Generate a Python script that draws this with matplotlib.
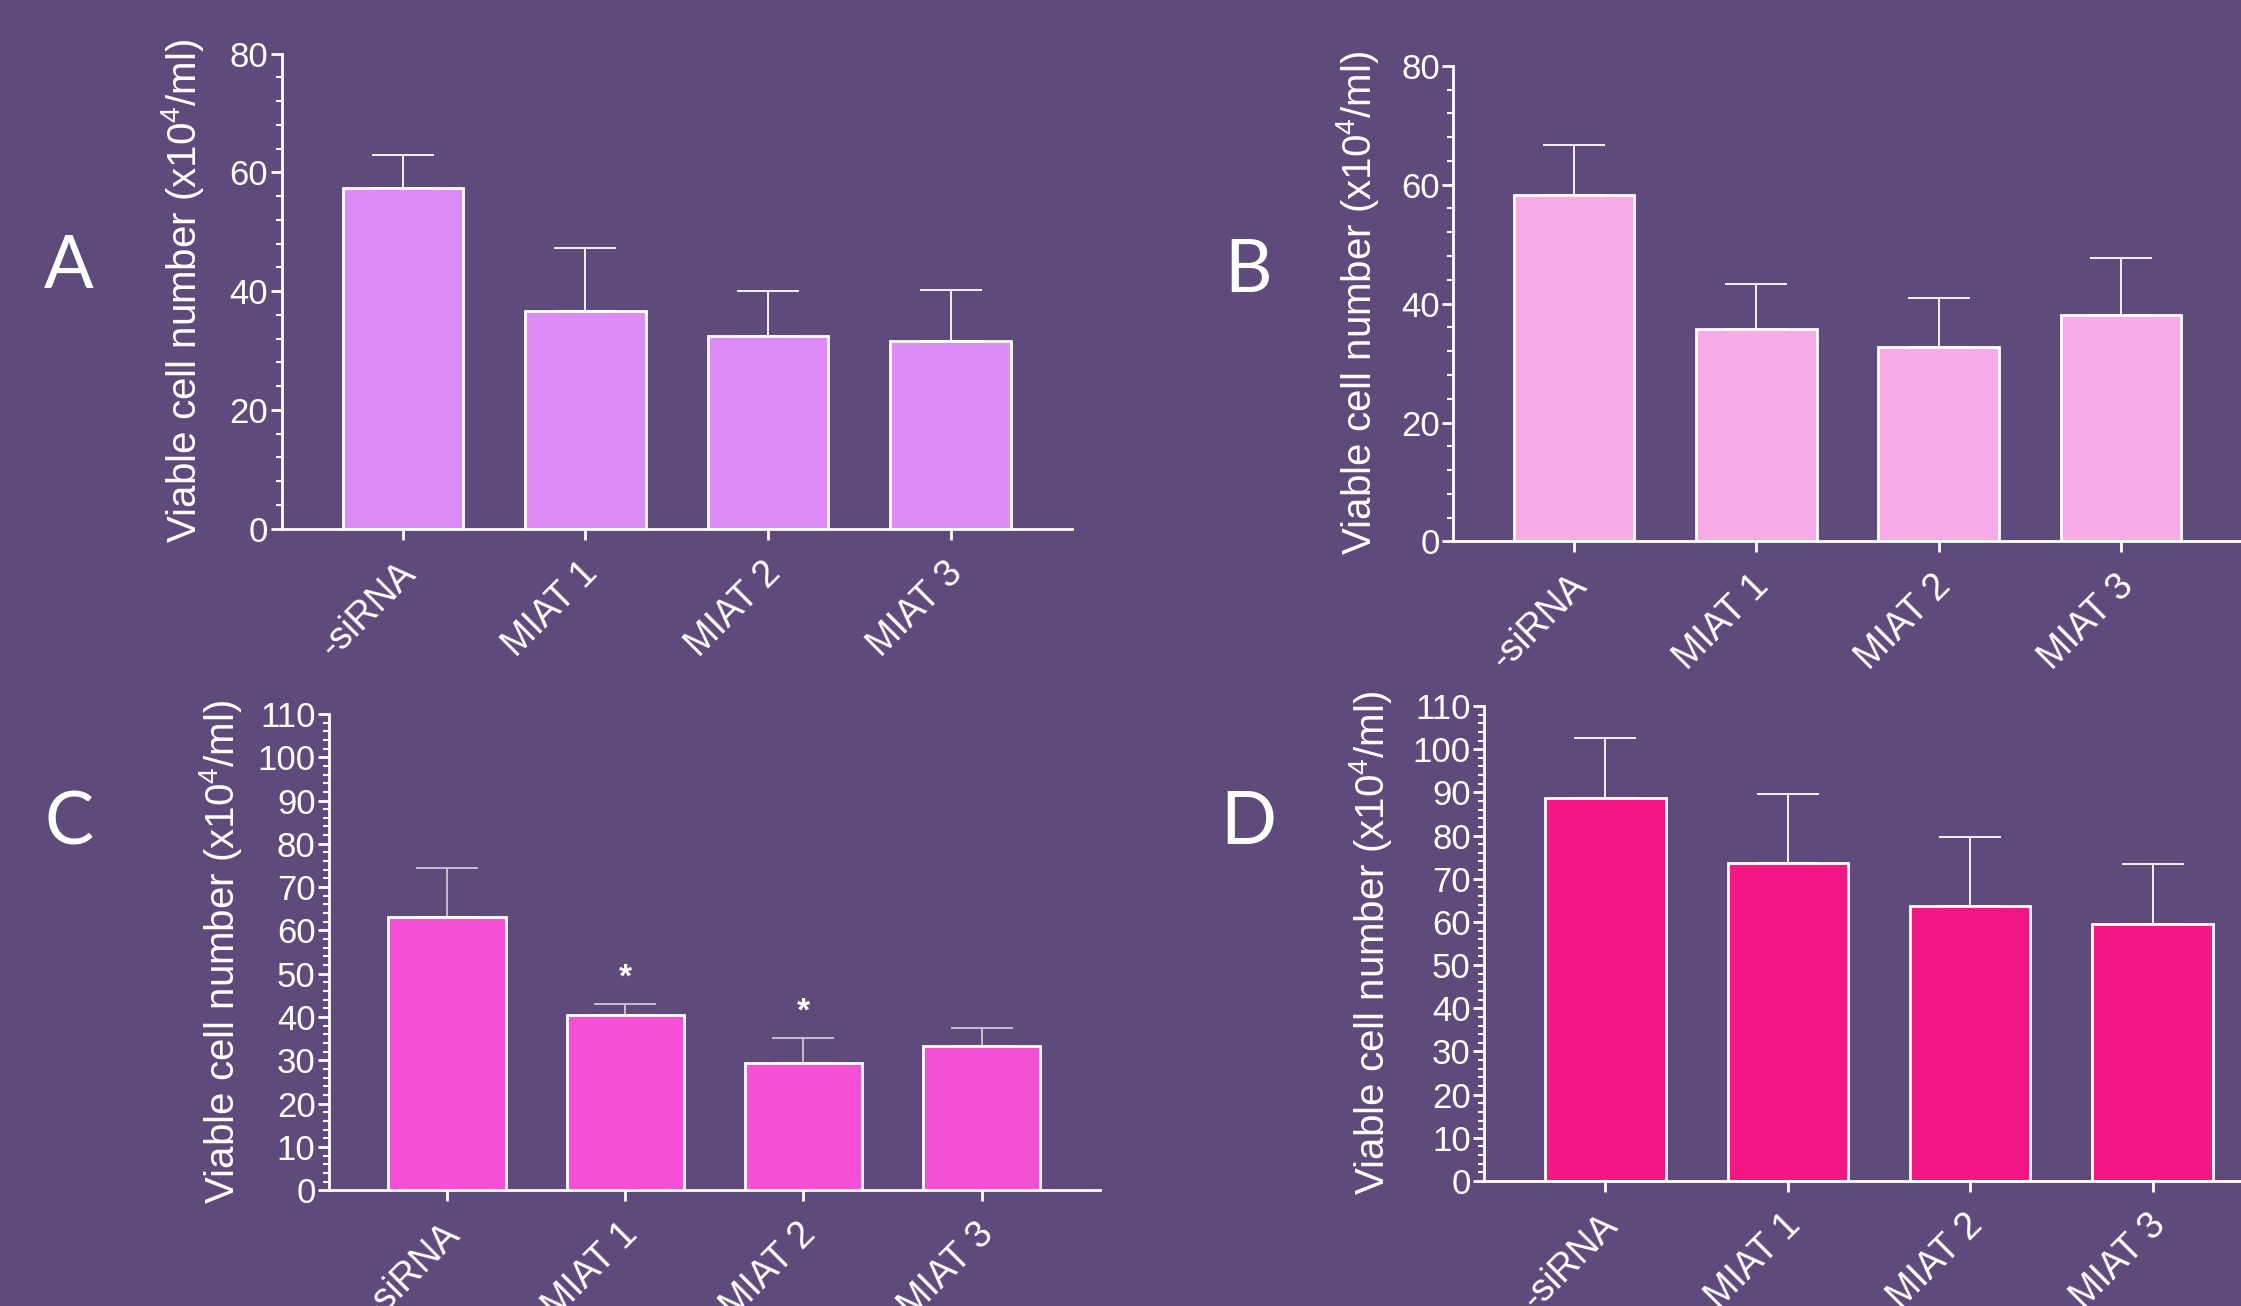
import numpy as np
import matplotlib.pyplot as plt
from matplotlib.ticker import MultipleLocator
from matplotlib.transforms import ScaledTranslation

plt.rcParams['mathtext.fontset'] = 'custom'
plt.rcParams['mathtext.rm'] = 'Liberation Sans'
plt.rcParams['mathtext.it'] = 'Liberation Sans'

W, H = 2241, 1306
BG = '#5f4b7b'

###############################################################################
# DATA
###############################################################################

groups = ['-siRNA', 'MIAT 1', 'MIAT 2', 'MIAT 3']

a_mean = [57.3, 36.6, 32.5, 31.6]
a_err = [5.7, 10.6, 7.6, 8.6]

b_mean = [58.3, 35.7, 32.7, 38.1]
b_err = [8.4, 7.6, 8.3, 9.6]

c_mean = [63.1, 40.4, 29.3, 33.3]
c_err = [11.2, 2.6, 5.9, 4.1]
c_sig = ['', '*', '*', '']

d_mean = [88.6, 73.6, 63.8, 59.5]
d_err = [14.1, 16.1, 15.8, 14.0]

ylabel = 'Viable cell number (x10$^{4}$/ml)'

###############################################################################
# FIGURE
###############################################################################

fig = plt.figure(figsize=(W / 100, H / 100), dpi=100)
fig.patch.set_facecolor(BG)


def px_rect(l, t, r, b):
    return [l / W, 1 - b / H, (r - l) / W, (b - t) / H]


panels = [
    # letter, mean, err, sig, colour, errcolour, rect(px), ymax, major, minor, letter xy, label xy
    ('A', a_mean, a_err, None, '#dd8bf7', 'white', (281.5, 53.6, 1072, 528.7), 80, 20, 4, (69, 268), (183, 291)),
    ('B', b_mean, b_err, None, '#f7aae6', 'white', (1453, 65.8, 2242, 541.4), 80, 20, 4, (1248, 271), (1357, 303)),
    ('C', c_mean, c_err, c_sig, '#f550d5', '#cfc6da', (328.8, 713.9, 1100, 1190.2), 110, 10, 2, (69, 824), (221, 952)),
    ('D', d_mean, d_err, None, '#f51685', 'white', (1484, 706, 2274, 1181), 110, 10, 2, (1248, 824), (1371, 943)),
]

shift = ScaledTranslation(5 / 72, 0, fig.dpi_scale_trans)

for letter, mean, err, sig, col, ecol, rect, ymax, major, minor, lxy, yxy in panels:
    ax = fig.add_axes(px_rect(*rect))
    ax.set_facecolor('none')
    x = np.arange(len(groups))

    ax.bar(x, mean, width=0.66, color=col, edgecolor='white', linewidth=2, zorder=2)
    ax.errorbar(x, mean, yerr=[np.zeros(len(mean)), err], fmt='none',
                ecolor=ecol, elinewidth=1.3, capsize=22, capthick=1.3, zorder=1)

    if sig is not None:
        for xi, m, e, s in zip(x, mean, err, sig):
            if s:
                ax.text(xi, m + e + 6, s, ha='center', va='center', color='white',
                        fontsize=24, fontweight='bold', family='Liberation Sans')

    ax.set_xlim(-0.665, 3.665)
    ax.set_ylim(0, ymax)
    ax.yaxis.set_major_locator(MultipleLocator(major))
    ax.yaxis.set_minor_locator(MultipleLocator(minor))

    for s in ['top', 'right']:
        ax.spines[s].set_visible(False)
    for s in ['left', 'bottom']:
        ax.spines[s].set_color('white')
        ax.spines[s].set_linewidth(2)

    ax.tick_params(axis='y', which='major', colors='white', length=8, width=2, pad=1.5)
    ax.tick_params(axis='y', which='minor', colors='white', length=4, width=1.5)
    ax.tick_params(axis='x', colors='white', length=8, width=2, pad=20)
    for lab in ax.get_yticklabels():
        lab.set_family('Liberation Sans')
        lab.set_fontsize(25)

    ax.set_xticks(x)
    ax.set_xticklabels(groups, rotation=45, ha='right', va='center',
                       rotation_mode='anchor', fontsize=27, family='Liberation Sans')
    for lab in ax.get_xticklabels():
        lab.set_transform(lab.get_transform() + shift)

    fig.text(yxy[0] / W, 1 - yxy[1] / H, ylabel, rotation=90, ha='center', va='center',
             color='white', fontsize=29, family='Liberation Sans')

    fig.text(lxy[0] / W, 1 - lxy[1] / H, letter, ha='center', va='center',
             color='white', fontsize=53, family='Lato')

fig.savefig('out.png', dpi=100, facecolor=BG)
